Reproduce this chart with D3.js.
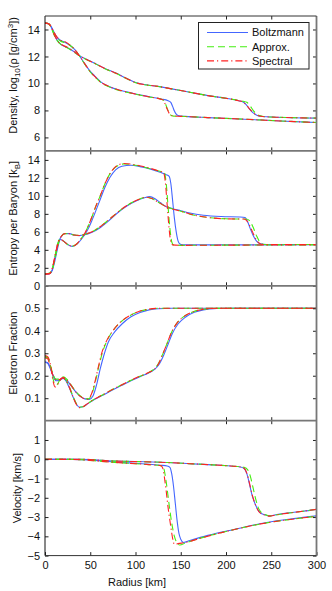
<!DOCTYPE html>
<html>
<head>
<meta charset="utf-8">
<script src="https://cdn.jsdelivr.net/npm/d3@7"></script>
<style>
  body { margin: 0; background: #fff; }
  svg text { font-family: "Liberation Sans", Arial, Helvetica, sans-serif; fill: #111; }
</style>
</head>
<body>
<div id="chart"></div>
<script>
// radius ticks + legend
const radiusTicks = [0, 50, 100, 150, 200, 250, 300];
const modelNames = ['Boltzmann', 'Approx.', 'Spectral'];

// ---- density, log10(rho) ----  [radius km, value]
// snapshot A: shock near 140 km, snapshot B: shock near 225 km
const densBoltzA = [[0,14.47],[4,14.42],[7,14.2],[10,13.8],[13,13.45],[17,13.2],[22,13.05],[27,12.85],[33,12.5],[38,12.05],[44,11.45],[50,10.9],[55,10.55],[62,10.1],[70,9.8],[80,9.55],[90,9.38],[100,9.22],[115,9.02],[128,8.85],[136,8.72],[139,8.6],[141,8.3],[143,7.95],[145,7.72],[148,7.6],[155,7.56],[180,7.47],[220,7.35],[260,7.22],[300,7.1]];
const densApproxA = [[0,14.47],[4,14.42],[7,14.15],[10,13.7],[13,13.4],[17,13.15],[22,13.02],[27,12.85],[33,12.5],[38,12.05],[44,11.42],[50,10.85],[55,10.5],[62,10.05],[70,9.78],[80,9.52],[90,9.35],[100,9.2],[115,9.0],[128,8.84],[131,8.75],[133,8.5],[135,8.15],[137,7.85],[139,7.65],[142,7.58],[155,7.55],[180,7.47],[220,7.35],[260,7.22],[300,7.1]];
const densSpecA = [[0,14.47],[4,14.42],[7,14.2],[10,13.8],[13,13.45],[17,13.22],[22,13.1],[27,12.88],[33,12.5],[38,12.05],[44,11.45],[50,10.88],[55,10.52],[62,10.08],[70,9.8],[80,9.55],[90,9.37],[100,9.21],[115,9.01],[128,8.84],[130,8.8],[132,8.6],[134,8.25],[136,7.95],[138,7.7],[141,7.6],[155,7.55],[180,7.47],[220,7.35],[260,7.22],[300,7.1]];
const densBoltzB = [[0,14.47],[4,14.42],[7,14.15],[10,13.65],[13,13.25],[18,12.88],[24,12.68],[31,12.4],[38,12.05],[45,11.82],[55,11.5],[65,11.15],[79,10.75],[90,10.38],[101,10.05],[112,9.9],[125,9.78],[140,9.6],[160,9.35],[180,9.1],[200,8.9],[214,8.72],[219,8.62],[222,8.45],[226,8.1],[230,7.82],[234,7.65],[240,7.55],[255,7.5],[300,7.43]];
const densApproxB = [[0,14.47],[4,14.42],[7,14.12],[10,13.6],[13,13.22],[18,12.86],[24,12.66],[31,12.38],[38,12.05],[45,11.8],[55,11.48],[65,11.13],[79,10.73],[90,10.36],[101,10.03],[112,9.88],[125,9.77],[140,9.6],[160,9.35],[180,9.1],[200,8.9],[214,8.74],[219,8.68],[223,8.6],[226,8.4],[230,8.0],[234,7.72],[238,7.6],[245,7.52],[260,7.49],[300,7.43]];
const densSpecB = [[0,14.47],[4,14.42],[7,14.15],[10,13.65],[13,13.25],[18,12.9],[24,12.7],[31,12.42],[38,12.05],[45,11.81],[55,11.49],[65,11.14],[79,10.74],[90,10.37],[101,10.04],[112,9.89],[125,9.78],[140,9.6],[160,9.35],[180,9.1],[200,8.9],[214,8.72],[219,8.63],[222,8.45],[226,8.12],[230,7.83],[234,7.65],[240,7.55],[255,7.5],[300,7.43]];

// ---- entropy per baryon [kB] ----
const entBoltzA = [[0,1.3],[5,1.35],[8,1.7],[11,2.8],[14,4.2],[17,5.15],[20,5.0],[25,4.6],[30,4.38],[35,4.6],[40,5.15],[44,5.7],[48,6.4],[52,7.3],[56,8.3],[61,9.6],[66,10.9],[72,12.1],[78,12.9],[85,13.3],[95,13.4],[105,13.25],[116,13.0],[128,12.6],[134,12.35],[137,12.2],[139,11.4],[141,9.5],[143,7.5],[145,6.0],[147,5.0],[149,4.65],[152,4.55],[200,4.55],[300,4.58]];
const entApproxA = [[0,1.35],[5,1.4],[8,1.8],[11,3.0],[14,4.4],[17,5.2],[20,5.0],[25,4.6],[30,4.4],[35,4.65],[40,5.25],[44,5.85],[48,6.7],[52,7.7],[56,8.8],[61,10.0],[66,11.3],[72,12.5],[78,13.2],[87,13.55],[100,13.4],[115,13.05],[128,12.7],[132,12.55],[134,11.3],[136,8.8],[138,6.4],[140,4.9],[142,4.55],[150,4.5],[200,4.52],[300,4.55]];
const entSpecA = [[0,1.3],[5,1.35],[8,1.9],[11,3.2],[14,4.5],[17,5.2],[20,5.0],[25,4.6],[30,4.4],[35,4.65],[40,5.25],[44,5.85],[48,6.7],[52,7.7],[56,8.8],[61,10.0],[66,11.3],[72,12.5],[78,13.25],[87,13.6],[100,13.45],[115,13.1],[128,12.7],[131,12.6],[133,11.5],[135,9.0],[137,6.5],[139,4.9],[141,4.55],[150,4.5],[200,4.52],[300,4.55]];
const entBoltzB = [[0,1.3],[5,1.35],[8,1.8],[11,3.2],[14,4.6],[18,5.5],[22,5.82],[27,5.8],[32,5.65],[38,5.58],[44,5.68],[52,5.95],[60,6.4],[70,7.2],[80,8.1],[90,8.85],[100,9.4],[110,9.8],[116,9.92],[122,9.65],[128,9.2],[134,8.8],[142,8.55],[150,8.35],[160,8.1],[175,7.85],[195,7.7],[215,7.65],[221,7.6],[224,7.1],[227,6.3],[230,5.6],[234,4.95],[238,4.68],[245,4.6],[300,4.6]];
const entApproxB = [[0,1.35],[5,1.4],[8,1.9],[11,3.3],[14,4.7],[18,5.5],[22,5.8],[27,5.78],[32,5.65],[38,5.6],[44,5.72],[52,6.0],[60,6.5],[70,7.3],[80,8.15],[90,8.9],[100,9.45],[112,9.85],[118,9.7],[125,9.3],[135,8.75],[150,8.3],[165,7.85],[180,7.6],[200,7.45],[222,7.42],[226,7.25],[230,6.5],[234,5.5],[238,4.8],[242,4.6],[300,4.6]];
const entSpecB = [[0,1.3],[5,1.35],[8,1.9],[11,3.3],[14,4.7],[18,5.5],[22,5.8],[27,5.78],[32,5.65],[38,5.6],[44,5.72],[52,6.0],[60,6.5],[70,7.3],[80,8.15],[90,8.9],[100,9.45],[112,9.85],[118,9.7],[125,9.3],[135,8.75],[150,8.3],[165,7.85],[180,7.6],[200,7.45],[220,7.42],[224,7.1],[228,6.3],[232,5.4],[236,4.8],[240,4.6],[300,4.6]];

// ---- electron fraction ----
const yeBoltzA = [[0,0.262],[3,0.258],[6,0.235],[9,0.2],[12,0.178],[15,0.178],[19,0.19],[23,0.178],[27,0.145],[31,0.105],[35,0.072],[38,0.06],[42,0.062],[47,0.075],[55,0.095],[65,0.115],[75,0.138],[85,0.158],[95,0.178],[105,0.196],[115,0.213],[121,0.228],[126,0.25],[131,0.29],[136,0.34],[141,0.39],[147,0.43],[155,0.46],[165,0.482],[175,0.493],[190,0.499],[210,0.5],[300,0.5]];
const yeApproxA = [[0,0.285],[3,0.28],[6,0.245],[9,0.185],[11,0.16],[13,0.16],[16,0.178],[19,0.192],[23,0.182],[27,0.15],[31,0.108],[35,0.073],[38,0.06],[42,0.062],[47,0.076],[55,0.097],[65,0.118],[75,0.14],[85,0.16],[95,0.18],[105,0.198],[115,0.215],[120,0.228],[125,0.252],[130,0.295],[135,0.345],[140,0.395],[146,0.435],[154,0.465],[164,0.485],[175,0.495],[190,0.5],[300,0.5]];
const yeSpecA = [[0,0.29],[3,0.285],[6,0.25],[9,0.175],[11,0.15],[13,0.155],[16,0.175],[19,0.19],[23,0.18],[27,0.148],[31,0.105],[35,0.07],[38,0.058],[42,0.062],[47,0.076],[55,0.097],[65,0.118],[75,0.14],[85,0.16],[95,0.18],[105,0.198],[115,0.215],[120,0.226],[125,0.25],[130,0.295],[135,0.345],[140,0.395],[146,0.435],[154,0.465],[164,0.485],[175,0.495],[190,0.5],[300,0.5]];
const yeBoltzB = [[0,0.26],[3,0.255],[6,0.23],[9,0.2],[12,0.182],[16,0.18],[20,0.188],[24,0.18],[29,0.155],[34,0.128],[39,0.108],[44,0.097],[49,0.095],[53,0.11],[57,0.16],[61,0.23],[65,0.29],[70,0.35],[77,0.395],[85,0.43],[95,0.462],[105,0.481],[115,0.493],[125,0.498],[140,0.5],[300,0.5]];
const yeApproxB = [[0,0.285],[3,0.28],[6,0.245],[9,0.205],[12,0.185],[16,0.185],[20,0.195],[24,0.185],[29,0.158],[34,0.13],[39,0.11],[44,0.098],[48,0.097],[52,0.12],[56,0.18],[60,0.25],[64,0.31],[69,0.36],[76,0.405],[84,0.44],[94,0.468],[104,0.486],[114,0.495],[125,0.5],[300,0.5]];
const yeSpecB = [[0,0.28],[3,0.275],[6,0.24],[9,0.2],[12,0.182],[16,0.183],[20,0.192],[24,0.183],[29,0.156],[34,0.128],[39,0.108],[44,0.097],[47,0.096],[51,0.115],[55,0.17],[59,0.24],[63,0.305],[68,0.355],[75,0.4],[83,0.437],[93,0.466],[103,0.485],[113,0.495],[125,0.5],[300,0.5]];

// ---- velocity ----
const velBoltzA = [[0,0],[20,0],[40,-0.02],[55,-0.06],[70,-0.12],[85,-0.17],[100,-0.21],[115,-0.26],[128,-0.31],[135,-0.35],[138,-0.42],[140,-0.75],[142,-1.4],[144,-2.3],[146,-3.2],[148,-3.85],[150,-4.15],[153,-4.32],[160,-4.22],[180,-3.95],[210,-3.63],[245,-3.28],[275,-3.08],[300,-2.94]];
const velApproxA = [[0,0],[20,0],[40,-0.03],[55,-0.08],[70,-0.14],[85,-0.19],[100,-0.23],[115,-0.28],[128,-0.33],[131,-0.45],[134,-1.2],[137,-2.3],[140,-3.3],[143,-4.0],[146,-4.35],[149,-4.45],[155,-4.35],[170,-4.12],[200,-3.75],[245,-3.3],[275,-3.1],[300,-2.96]];
const velSpecA = [[0,0],[20,0],[40,-0.03],[55,-0.08],[70,-0.14],[85,-0.19],[100,-0.23],[115,-0.28],[128,-0.33],[130,-0.45],[133,-1.3],[136,-2.5],[139,-3.5],[141,-4.1],[143,-4.42],[147,-4.38],[155,-4.32],[170,-4.12],[200,-3.75],[245,-3.3],[275,-3.1],[300,-2.96]];
const velBoltzB = [[0,0],[20,0],[40,0],[55,-0.03],[70,-0.08],[90,-0.11],[110,-0.13],[135,-0.17],[160,-0.23],[185,-0.29],[205,-0.35],[216,-0.4],[220,-0.48],[223,-0.75],[226,-1.3],[229,-1.9],[232,-2.3],[235,-2.6],[238,-2.78],[243,-2.88],[248,-2.94],[255,-2.88],[270,-2.78],[285,-2.7],[300,-2.6]];
const velApproxB = [[0,0],[20,0],[40,0],[55,-0.03],[70,-0.08],[90,-0.11],[110,-0.13],[135,-0.17],[160,-0.23],[185,-0.29],[205,-0.35],[216,-0.39],[220,-0.42],[224,-0.55],[227,-0.9],[230,-1.5],[233,-2.1],[236,-2.55],[240,-2.8],[245,-2.9],[249,-2.94],[255,-2.89],[270,-2.79],[285,-2.7],[300,-2.6]];
const velSpecB = [[0,0],[20,0],[40,0],[55,-0.03],[70,-0.08],[90,-0.11],[110,-0.13],[135,-0.17],[160,-0.23],[185,-0.29],[205,-0.35],[216,-0.4],[220,-0.47],[223,-0.72],[226,-1.25],[229,-1.85],[232,-2.3],[235,-2.62],[238,-2.8],[243,-2.9],[248,-2.95],[255,-2.89],[270,-2.79],[285,-2.7],[300,-2.6]];

// y tick labels per panel
const densTicks = [6, 8, 10, 12, 14];
const entTicks = [0, 2, 4, 6, 8, 10, 12, 14];
const yeTicks = [0.1, 0.2, 0.3, 0.4, 0.5];
const velTicks = [-5, -4, -3, -2, -1, 0, 1];

const W = 332, H = 591;
const margin = { t: 16, l: 45, r: 15.5 };
const panelH = 134.9;
const colors = ['#4466ff', '#44ee11', '#ff2222'];
const dashes = [null, '7,4', '7,3,1.2,3'];

const panels = [
  { series: [[densBoltzA, densBoltzB], [densApproxA, densApproxB], [densSpecA, densSpecB]], domain: [5, 15], ticks: densTicks, fmt: d3.format('d'), titleX: 13, titleDy: -8 },
  { series: [[entBoltzA, entBoltzB], [entApproxA, entApproxB], [entSpecA, entSpecB]], domain: [0, 15], ticks: entTicks, fmt: d3.format('d'), titleX: 13, titleDy: 0 },
  { series: [[yeBoltzA, yeBoltzB], [yeApproxA, yeApproxB], [yeSpecA, yeSpecB]], domain: [0, 0.6], ticks: yeTicks, fmt: d3.format('.1f'), titleX: 13, titleDy: 0 },
  { series: [[velBoltzA, velBoltzB], [velApproxA, velApproxB], [velSpecA, velSpecB]], domain: [-5, 2], ticks: velTicks, fmt: d3.format('d'), titleX: 17, titleDy: 0 }
];

const svg = d3.select('#chart')
  .append('svg')
  .attr('width', W)
  .attr('height', H);

const x = d3.scaleLinear().domain([0, 300]).range([margin.l, W - margin.r]);

panels.forEach(function(p, i) {
  const top = margin.t + i * panelH;
  const bot = top + panelH;
  const y = d3.scaleLinear().domain(p.domain).range([bot, top]);

  const clipId = 'clip' + i;
  svg.append('clipPath').attr('id', clipId)
    .append('rect')
    .attr('x', x(0)).attr('y', top)
    .attr('width', x(300) - x(0)).attr('height', panelH);

  const line = d3.line()
    .x(d => x(d[0]))
    .y(d => y(d[1]))
    .curve(d3.curveMonotoneX);

  const g = svg.append('g').attr('clip-path', `url(#${clipId})`);
  p.series.forEach(function(pair, m) {
    pair.forEach(function(data) {
      g.append('path')
        .datum(data)
        .attr('d', line)
        .attr('fill', 'none')
        .attr('stroke', colors[m])
        .attr('stroke-width', 1.1)
        .attr('stroke-dasharray', dashes[m]);
    });
  });

  // ticks on all four sides, pointing in
  const left = svg.append('g')
    .attr('transform', `translate(${x(0)},0)`)
    .call(d3.axisLeft(y).tickValues(p.ticks).tickFormat(p.fmt).tickSizeInner(-3.5).tickSizeOuter(0).tickPadding(5));
  left.select('.domain').remove();

  const right = svg.append('g')
    .attr('transform', `translate(${x(300)},0)`)
    .call(d3.axisRight(y).tickValues(p.ticks).tickFormat('').tickSizeInner(-3.5).tickSizeOuter(0));
  right.select('.domain').remove();

  const topAx = svg.append('g')
    .attr('transform', `translate(0,${top})`)
    .call(d3.axisTop(x).tickValues(radiusTicks.slice(1, -1)).tickFormat('').tickSizeInner(-3.5).tickSizeOuter(0));
  topAx.select('.domain').remove();

  const botAx = svg.append('g')
    .attr('transform', `translate(0,${bot})`)
    .call(d3.axisBottom(x).tickValues(i === 3 ? radiusTicks : radiusTicks.slice(1, -1))
      .tickFormat(i === 3 ? d3.format('d') : '').tickSizeInner(-3.5).tickSizeOuter(0).tickPadding(6));
  botAx.select('.domain').remove();

  svg.selectAll('.tick line').attr('stroke', '#222');
  svg.selectAll('.tick text').style('font-size', '11px').attr('fill', '#111');

  // axis title
  const title = svg.append('text')
    .attr('transform', `translate(${p.titleX},${(top + bot) / 2 + p.titleDy}) rotate(-90)`)
    .attr('text-anchor', 'middle')
    .attr('dy', '0.35em')
    .style('font-size', '11px');
  if (i === 0) {
    title.append('tspan').text('Density, log');
    title.append('tspan').attr('dy', 3).style('font-size', '8px').text('10');
    title.append('tspan').attr('dy', -3).text('(ρ [g/cm');
    title.append('tspan').attr('dy', -4).style('font-size', '8px').text('3');
    title.append('tspan').attr('dy', 4).text('])');
  } else if (i === 1) {
    title.append('tspan').text('Entropy per Baryon [k');
    title.append('tspan').attr('dy', 3).style('font-size', '8px').text('B');
    title.append('tspan').attr('dy', -3).text(']');
  } else if (i === 2) {
    title.text('Electron Fraction');
  } else {
    title.text('Velocity [km/s]');
  }
});

// frame: left + outer edges dark, panel seams and right edge grey
const yTop = margin.t, yBot = margin.t + 4 * panelH;
svg.append('line').attr('x1', x(0)).attr('x2', x(0)).attr('y1', yTop).attr('y2', yBot)
  .attr('stroke', '#111').attr('stroke-width', 1);
svg.append('line').attr('x1', x(300)).attr('x2', x(300)).attr('y1', yTop).attr('y2', yBot)
  .attr('stroke', '#777').attr('stroke-width', 1.8);
svg.append('line').attr('x1', x(0)).attr('x2', x(300)).attr('y1', yTop).attr('y2', yTop)
  .attr('stroke', '#333').attr('stroke-width', 1);
svg.append('line').attr('x1', x(0)).attr('x2', x(300)).attr('y1', yBot).attr('y2', yBot)
  .attr('stroke', '#333').attr('stroke-width', 1);
[1, 2, 3].forEach(function(k) {
  const yy = margin.t + k * panelH;
  svg.append('line').attr('x1', x(0)).attr('x2', x(300)).attr('y1', yy).attr('y2', yy)
    .attr('stroke', '#777').attr('stroke-width', 1.8);
});

svg.append('text')
  .attr('x', 137)
  .attr('y', 585.5)
  .attr('text-anchor', 'middle')
  .style('font-size', '11px')
  .text('Radius [km]');

// legend
const lg = svg.append('g');
lg.append('rect')
  .attr('x', 198.5).attr('y', 22.5)
  .attr('width', 110.5).attr('height', 46.5)
  .attr('fill', '#fff').attr('stroke', '#222').attr('stroke-width', 1);
modelNames.forEach(function(name, m) {
  const ly = 32.5 + m * 14.2;
  lg.append('line')
    .attr('x1', 207).attr('x2', 248).attr('y1', ly).attr('y2', ly)
    .attr('stroke', colors[m]).attr('stroke-width', 1.1)
    .attr('stroke-dasharray', dashes[m]);
  lg.append('text')
    .attr('x', 252).attr('y', ly).attr('dy', '0.35em')
    .style('font-size', '11px')
    .text(name);
});
</script>
</body>
</html>
